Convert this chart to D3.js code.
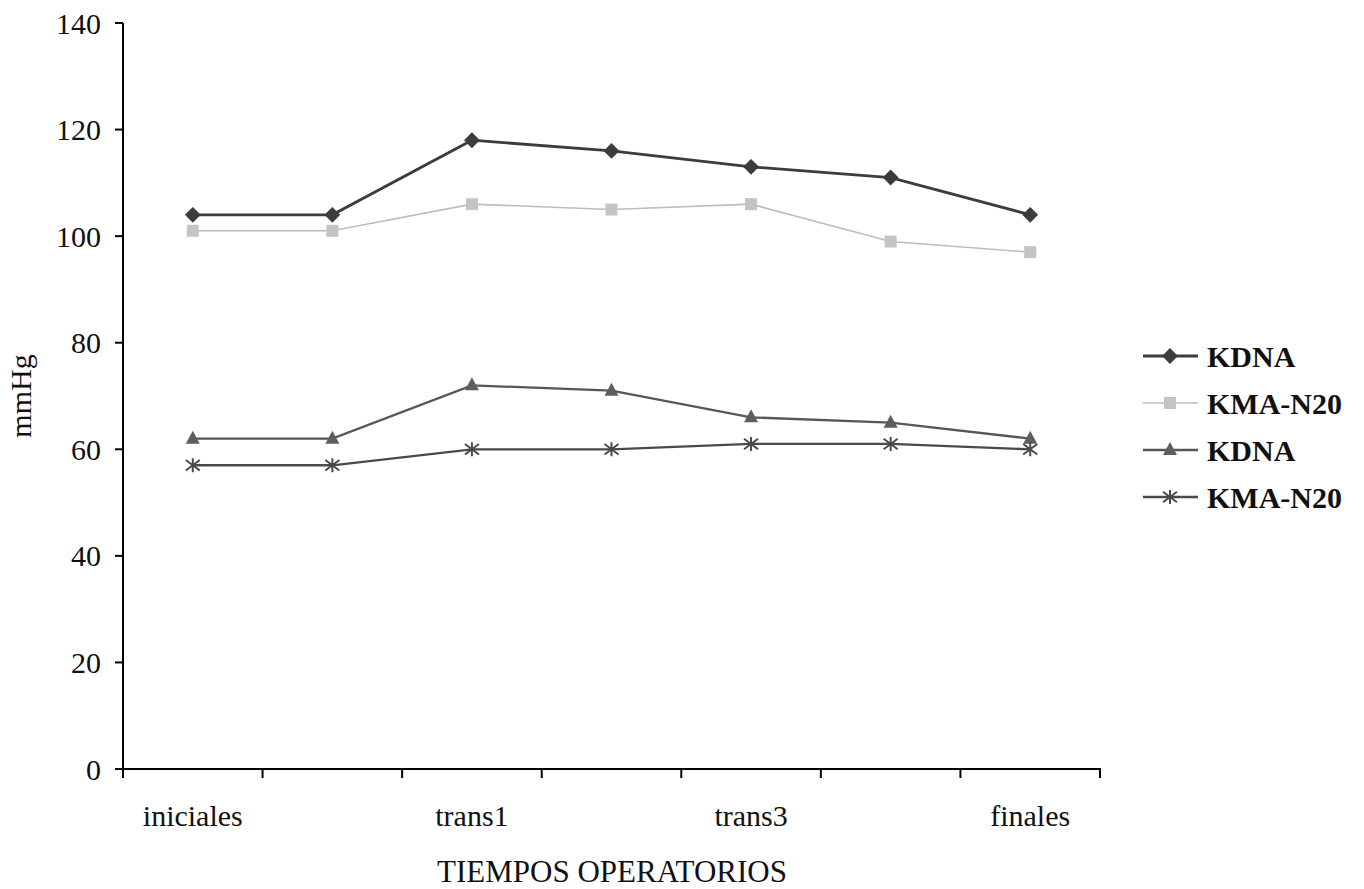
<!DOCTYPE html>
<html>
<head>
<meta charset="utf-8">
<script src="https://cdn.jsdelivr.net/npm/d3@7"></script>
<style>
  body { margin: 0; background: #fff; }
  text { font-family: "Liberation Serif", "Times New Roman", serif; fill: #111; }
</style>
</head>
<body>
<svg width="1364" height="889"></svg>
<script>
var categories = ["iniciales", "inducción", "trans1", "trans2", "trans3", "trans4", "finales"];
var shownLabels = ["iniciales", "trans1", "trans3", "finales"];
var yTicks = [0, 20, 40, 60, 80, 100, 120, 140];

var kdnaSys = [104, 104, 118, 116, 113, 111, 104];
var kmaSys = [101, 101, 106, 105, 106, 99, 97];
var kdnaDia = [62, 62, 72, 71, 66, 65, 62];
var kmaDia = [57, 57, 60, 60, 61, 61, 60];

var seriesNames = ["KDNA", "KMA-N20", "KDNA", "KMA-N20"];

var svg = d3.select("svg");

var x = d3.scaleBand().domain(categories).range([123, 1100]);
var y = d3.scaleLinear().domain([0, 140]).range([769, 23]);

var series = [
  { name: seriesNames[0], values: kdnaSys, color: "#3c3c3c", width: 2.8, marker: "diamond" },
  { name: seriesNames[1], values: kmaSys, color: "#bdbdbd", width: 1.6, marker: "square" },
  { name: seriesNames[2], values: kdnaDia, color: "#575757", width: 2.3, marker: "triangle" },
  { name: seriesNames[3], values: kmaDia, color: "#4a4a4a", width: 2.3, marker: "star" }
];

function cx(c) { return x(c) + x.bandwidth() / 2; }

// marker drawing
function drawMarker(g, type, px, py, color) {
  if (type == "diamond") {
    g.append("path")
      .attr("d", d3.symbol().type(d3.symbolDiamond2).size(160)())
      .attr("transform", "translate(" + px + "," + py + ")")
      .attr("fill", color);
  } else if (type == "square") {
    g.append("rect")
      .attr("x", px - 6).attr("y", py - 6)
      .attr("width", 12).attr("height", 12)
      .attr("fill", "#c4c4c4");
  } else if (type == "triangle") {
    g.append("path")
      .attr("d", "M" + px + "," + (py - 8) + "L" + (px + 7) + "," + (py + 5) + "L" + (px - 7) + "," + (py + 5) + "Z")
      .attr("fill", "#5e5e5e");
  } else {
    var r = 7;
    var d = "M" + px + "," + (py - r) + "L" + px + "," + (py + r) +
      "M" + (px - r) + "," + (py - r * 0.75) + "L" + (px + r) + "," + (py + r * 0.75) +
      "M" + (px - r) + "," + (py + r * 0.75) + "L" + (px + r) + "," + (py - r * 0.75);
    g.append("path").attr("d", d).attr("stroke", color).attr("stroke-width", 2).attr("fill", "none");
  }
}

// axes
var axes = svg.append("g").attr("stroke", "#000").attr("stroke-width", 2);
axes.append("line").attr("x1", 123).attr("x2", 123).attr("y1", y(140)).attr("y2", y(0) + 1);
axes.append("line").attr("x1", 122).attr("x2", 1101).attr("y1", y(0)).attr("y2", y(0));

yTicks.forEach(function (t) {
  axes.append("line").attr("x1", 115).attr("x2", 123).attr("y1", y(t)).attr("y2", y(t));
  svg.append("text")
    .attr("x", 101).attr("y", y(t))
    .attr("dy", "0.35em")
    .attr("text-anchor", "end")
    .style("font-size", "30px")
    .text(t);
});

var bounds = categories.map(function (c) { return x(c); }).concat([x.range()[1]]);
bounds.forEach(function (b) {
  axes.append("line").attr("x1", b).attr("x2", b).attr("y1", y(0)).attr("y2", y(0) + 9);
});

shownLabels.forEach(function (c) {
  svg.append("text")
    .attr("x", cx(c)).attr("y", 826)
    .attr("text-anchor", "middle")
    .style("font-size", "30px")
    .text(c);
});

svg.append("text")
  .attr("x", 612).attr("y", 882)
  .attr("text-anchor", "middle")
  .style("font-size", "31px")
  .text("TIEMPOS OPERATORIOS");

svg.append("text")
  .attr("transform", "translate(31,396) rotate(-90)")
  .attr("text-anchor", "middle")
  .style("font-size", "30px")
  .text("mmHg");

// lines
var line = d3.line()
  .x(function (d, i) { return cx(categories[i]); })
  .y(function (d) { return y(d); });

series.forEach(function (s) {
  var g = svg.append("g");
  g.append("path")
    .datum(s.values)
    .attr("d", line)
    .attr("fill", "none")
    .attr("stroke", s.color)
    .attr("stroke-width", s.width);
  s.values.forEach(function (v, i) {
    drawMarker(g, s.marker, cx(categories[i]), y(v), s.color);
  });
});

// legend
var legend = svg.append("g");
series.forEach(function (s, i) {
  var ly = 356 + i * 47;
  legend.append("line")
    .attr("x1", 1143).attr("x2", 1198).attr("y1", ly).attr("y2", ly)
    .attr("stroke", s.color).attr("stroke-width", s.width);
  drawMarker(legend, s.marker, 1170, ly, s.color);
  legend.append("text")
    .attr("x", 1207).attr("y", ly)
    .attr("dy", "0.35em")
    .style("font-size", "30px")
    .style("font-weight", "bold")
    .text(s.name);
});
</script>
</body>
</html>
